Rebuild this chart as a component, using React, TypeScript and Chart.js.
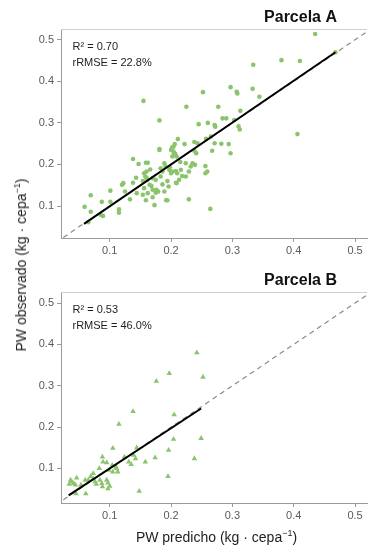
import React, { useEffect, useRef } from 'react';
import { Chart, registerables } from 'chart.js';

Chart.register(...registerables);

// ---------- data ----------
const xTicks = [0.1, 0.2, 0.3, 0.4, 0.5];
const yTicks = [0.1, 0.2, 0.3, 0.4, 0.5];
const xRange = [0.0205, 0.5195];
const yRangeA = [0.023, 0.526];
const yRangeB = [0.0165, 0.5267];
const identityLine = [0.0, 0.6];
const fitA: [number, number][] = [[0.058, 0.057], [0.468, 0.47]];
const fitB: [number, number][] = [[0.033, 0.035], [0.249, 0.245]];
const statsA = ['R² = 0.70', 'rRMSE = 22.8%'];
const statsB = ['R² = 0.53', 'rRMSE = 46.0%'];
const titleA = 'Parcela A';
const titleB = 'Parcela B';
const xTitle = 'PW predicho (kg · cepa';
const yTitle = 'PW observado (kg · cepa';
const unitExp = '−1';

const pointsA: [number, number][] = [
  [0.435, 0.514], [0.468, 0.47], [0.38, 0.451], [0.41, 0.449], [0.334, 0.44],
  [0.297, 0.386], [0.252, 0.374], [0.307, 0.375], [0.308, 0.371], [0.333, 0.382],
  [0.344, 0.363], [0.155, 0.353], [0.225, 0.339], [0.277, 0.339], [0.313, 0.329],
  [0.181, 0.306], [0.284, 0.311], [0.29, 0.311], [0.303, 0.307], [0.245, 0.297],
  [0.26, 0.3], [0.271, 0.295], [0.272, 0.291], [0.31, 0.292], [0.312, 0.284],
  [0.406, 0.273], [0.294, 0.249], [0.297, 0.227], [0.211, 0.261],
  [0.206, 0.249], [0.204, 0.243], [0.2, 0.235], [0.204, 0.231], [0.207, 0.225],
  [0.202, 0.219], [0.222, 0.249], [0.238, 0.254], [0.243, 0.251], [0.257, 0.262],
  [0.271, 0.251], [0.267, 0.233], [0.238, 0.233], [0.241, 0.227], [0.181, 0.235],
  [0.215, 0.206], [0.159, 0.204], [0.162, 0.204], [0.166, 0.188], [0.156, 0.179],
  [0.158, 0.171], [0.161, 0.163], [0.17, 0.167], [0.175, 0.163], [0.183, 0.171],
  [0.186, 0.183], [0.189, 0.203], [0.191, 0.195], [0.197, 0.187], [0.2, 0.179],
  [0.202, 0.183], [0.208, 0.184], [0.216, 0.187], [0.229, 0.183], [0.232, 0.195],
  [0.235, 0.203], [0.239, 0.199], [0.256, 0.196], [0.259, 0.183], [0.256, 0.179],
  [0.224, 0.171], [0.208, 0.156], [0.165, 0.151], [0.156, 0.143], [0.17, 0.139],
  [0.175, 0.132], [0.154, 0.127], [0.17, 0.121], [0.159, 0.114], [0.194, 0.114],
  [0.229, 0.116], [0.173, 0.102], [0.264, 0.093],
  [0.069, 0.126], [0.059, 0.098], [0.069, 0.086], [0.065, 0.061], [0.087, 0.11],
  [0.085, 0.079], [0.089, 0.076], [0.101, 0.137], [0.101, 0.11], [0.115, 0.092],
  [0.115, 0.084], [0.12, 0.151], [0.122, 0.155], [0.125, 0.135], [0.133, 0.116],
  [0.138, 0.156], [0.144, 0.131], [0.138, 0.213], [0.147, 0.201], [0.16, 0.183],
  [0.154, 0.16], [0.16, 0.168], [0.162, 0.131], [0.168, 0.148], [0.176, 0.139],
  [0.179, 0.135], [0.181, 0.237], [0.183, 0.191], [0.189, 0.135], [0.192, 0.114],
  [0.194, 0.16], [0.209, 0.155], [0.21, 0.179], [0.202, 0.241], [0.205, 0.227],
  [0.209, 0.219], [0.198, 0.193], [0.213, 0.163], [0.218, 0.172], [0.224, 0.203],
  [0.265, 0.267], [0.282, 0.25], [0.186, 0.152], [0.196, 0.147], [0.143, 0.168],
];

const pointsB: [number, number][] = [
  [0.242, 0.38], [0.197, 0.33], [0.176, 0.311], [0.252, 0.321],
  [0.138, 0.238], [0.205, 0.23], [0.115, 0.207], [0.249, 0.173], [0.204, 0.171],
  [0.105, 0.149], [0.144, 0.15], [0.196, 0.144],
  [0.088, 0.128], [0.089, 0.116], [0.095, 0.114], [0.124, 0.128], [0.139, 0.132],
  [0.142, 0.124], [0.131, 0.116], [0.135, 0.11], [0.158, 0.116], [0.174, 0.126],
  [0.238, 0.124], [0.195, 0.081], [0.148, 0.045],
  [0.104, 0.108], [0.111, 0.1], [0.099, 0.096], [0.105, 0.092], [0.113, 0.092],
  [0.11, 0.104], [0.083, 0.1], [0.073, 0.088], [0.069, 0.081], [0.073, 0.075],
  [0.06, 0.072], [0.065, 0.072], [0.046, 0.077], [0.036, 0.072], [0.038, 0.068],
  [0.034, 0.062], [0.041, 0.064], [0.044, 0.06], [0.045, 0.039], [0.061, 0.039],
  [0.076, 0.068], [0.078, 0.062], [0.084, 0.072], [0.087, 0.064], [0.088, 0.056],
  [0.095, 0.072], [0.097, 0.065], [0.1, 0.057], [0.097, 0.051], [0.053, 0.06],
];

// ---------- styling ----------
const FONT = '"Liberation Sans", Arial, Helvetica, sans-serif';
const GREEN = '#8CC46E';
const AXIS = '#9a9a9a';
const TICKTXT = '#5a5a5a';

Chart.defaults.font.family = FONT;

const panelPlugin = {
  id: 'panelText',
  afterDraw(chart: any, _args: any, opts: any) {
    const { ctx, chartArea: a } = chart;
    ctx.save();
    ctx.strokeStyle = '#cfcfcf';
    ctx.lineWidth = 1;
    ctx.beginPath();
    ctx.moveTo(a.left, Math.round(a.top) + 0.5);
    ctx.lineTo(a.right, Math.round(a.top) + 0.5);
    ctx.stroke();
    ctx.fillStyle = '#1e1e1e';
    ctx.font = `11px ${FONT}`;
    ctx.textAlign = 'left';
    ctx.textBaseline = 'alphabetic';
    (opts.stats as string[]).forEach((s, i) => ctx.fillText(s, a.left + 11.5, a.top + 20.7 + i * 16.5));
    ctx.font = `bold 16px ${FONT}`;
    ctx.textAlign = 'right';
    ctx.fillStyle = '#111';
    ctx.fillText(opts.title, a.right - 30, a.top - 6.8);
    ctx.restore();
  },
};

function makeConfig(
  points: [number, number][],
  fit: [number, number][],
  yRange: number[],
  marker: string,
  radius: number,
  padTop: number,
  xHeight: number,
  title: string,
  stats: string[],
): any {
  return {
    type: 'scatter',
    data: {
      datasets: [
        {
          data: fit.map(([x, y]) => ({ x, y })),
          showLine: true,
          borderColor: '#000',
          borderWidth: 2,
          pointRadius: 0,
          order: 0,
        },
        {
          data: points.map(([x, y]) => ({ x, y })),
          pointStyle: marker,
          pointRadius: radius,
          pointBackgroundColor: GREEN,
          pointBorderWidth: 0,
          borderWidth: 0,
          order: 1,
        },
        {
          data: identityLine.map((v) => ({ x: v, y: v })),
          showLine: true,
          borderColor: '#8a8a8a',
          borderWidth: 1.2,
          borderDash: [5, 4],
          pointRadius: 0,
          order: 2,
        },
      ],
    },
    options: {
      animation: false,
      responsive: false,
      devicePixelRatio: 1,
      events: [],
      layout: { padding: { top: padTop, left: 0, right: 1, bottom: 0 } },
      plugins: {
        legend: { display: false },
        tooltip: { enabled: false },
        title: { display: false },
        panelText: { title, stats },
      },
      scales: {
        x: {
          type: 'linear',
          min: xRange[0],
          max: xRange[1],
          afterBuildTicks: (s: any) => {
            s.ticks = xTicks.map((v) => ({ value: v }));
          },
          afterFit: (s: any) => {
            s.height = xHeight;
          },
          ticks: {
            callback: (v: any) => Number(v).toFixed(1),
            color: TICKTXT,
            font: { size: 11, family: FONT },
            padding: 2,
            maxRotation: 0,
            autoSkip: false,
          },
          grid: { display: true, drawOnChartArea: false, drawTicks: true, tickLength: 4, color: AXIS, lineWidth: 1 },
          border: { display: true, color: AXIS, width: 1 },
        },
        y: {
          type: 'linear',
          min: yRange[0],
          max: yRange[1],
          afterBuildTicks: (s: any) => {
            s.ticks = yTicks.map((v) => ({ value: v }));
          },
          afterFit: (s: any) => {
            s.width = 61;
          },
          ticks: {
            callback: (v: any) => Number(v).toFixed(1),
            color: TICKTXT,
            font: { size: 11, family: FONT },
            padding: 3,
            autoSkip: false,
          },
          grid: { display: true, drawOnChartArea: false, drawTicks: true, tickLength: 4, color: AXIS, lineWidth: 1 },
          border: { display: true, color: AXIS, width: 1 },
        },
      },
    },
    plugins: [panelPlugin],
  };
}

export default function App() {
  const refA = useRef<HTMLCanvasElement | null>(null);
  const refB = useRef<HTMLCanvasElement | null>(null);

  useEffect(() => {
    const a = new Chart(
      refA.current as HTMLCanvasElement,
      makeConfig(pointsA, fitA, yRangeA, 'circle', 2.3, 29, 24, titleA, statsA),
    );
    const b = new Chart(
      refB.current as HTMLCanvasElement,
      makeConfig(pointsB, fitB, yRangeB, 'triangle', 3.2, 30, 44, titleB, statsB),
    );
    return () => {
      a.destroy();
      b.destroy();
    };
  }, []);

  const titleStyle: React.CSSProperties = {
    position: 'absolute',
    whiteSpace: 'nowrap',
    font: `14px ${FONT}`,
    color: '#1e1e1e',
    lineHeight: '16px',
  };
  const supStyle: React.CSSProperties = { fontSize: '9px', verticalAlign: '6px', lineHeight: '0' };

  return (
    <div style={{ position: 'absolute', left: 0, top: 0, width: 371, height: 547, background: '#fff', overflow: 'hidden' }}>
      <canvas ref={refA} width={371} height={262} style={{ position: 'absolute', left: 0, top: 0 }} />
      <canvas ref={refB} width={371} height={285} style={{ position: 'absolute', left: 0, top: 262 }} />
      <div style={{ ...titleStyle, left: 216.5, top: 537, transform: 'translate(-50%, -50%)' }}>
        {xTitle}
        <span style={supStyle}>{unitExp}</span>)
      </div>
      <div style={{ ...titleStyle, left: 21, top: 265, transform: 'translate(-50%, -50%) rotate(-90deg)' }}>
        {yTitle}
        <span style={supStyle}>{unitExp}</span>)
      </div>
    </div>
  );
}
